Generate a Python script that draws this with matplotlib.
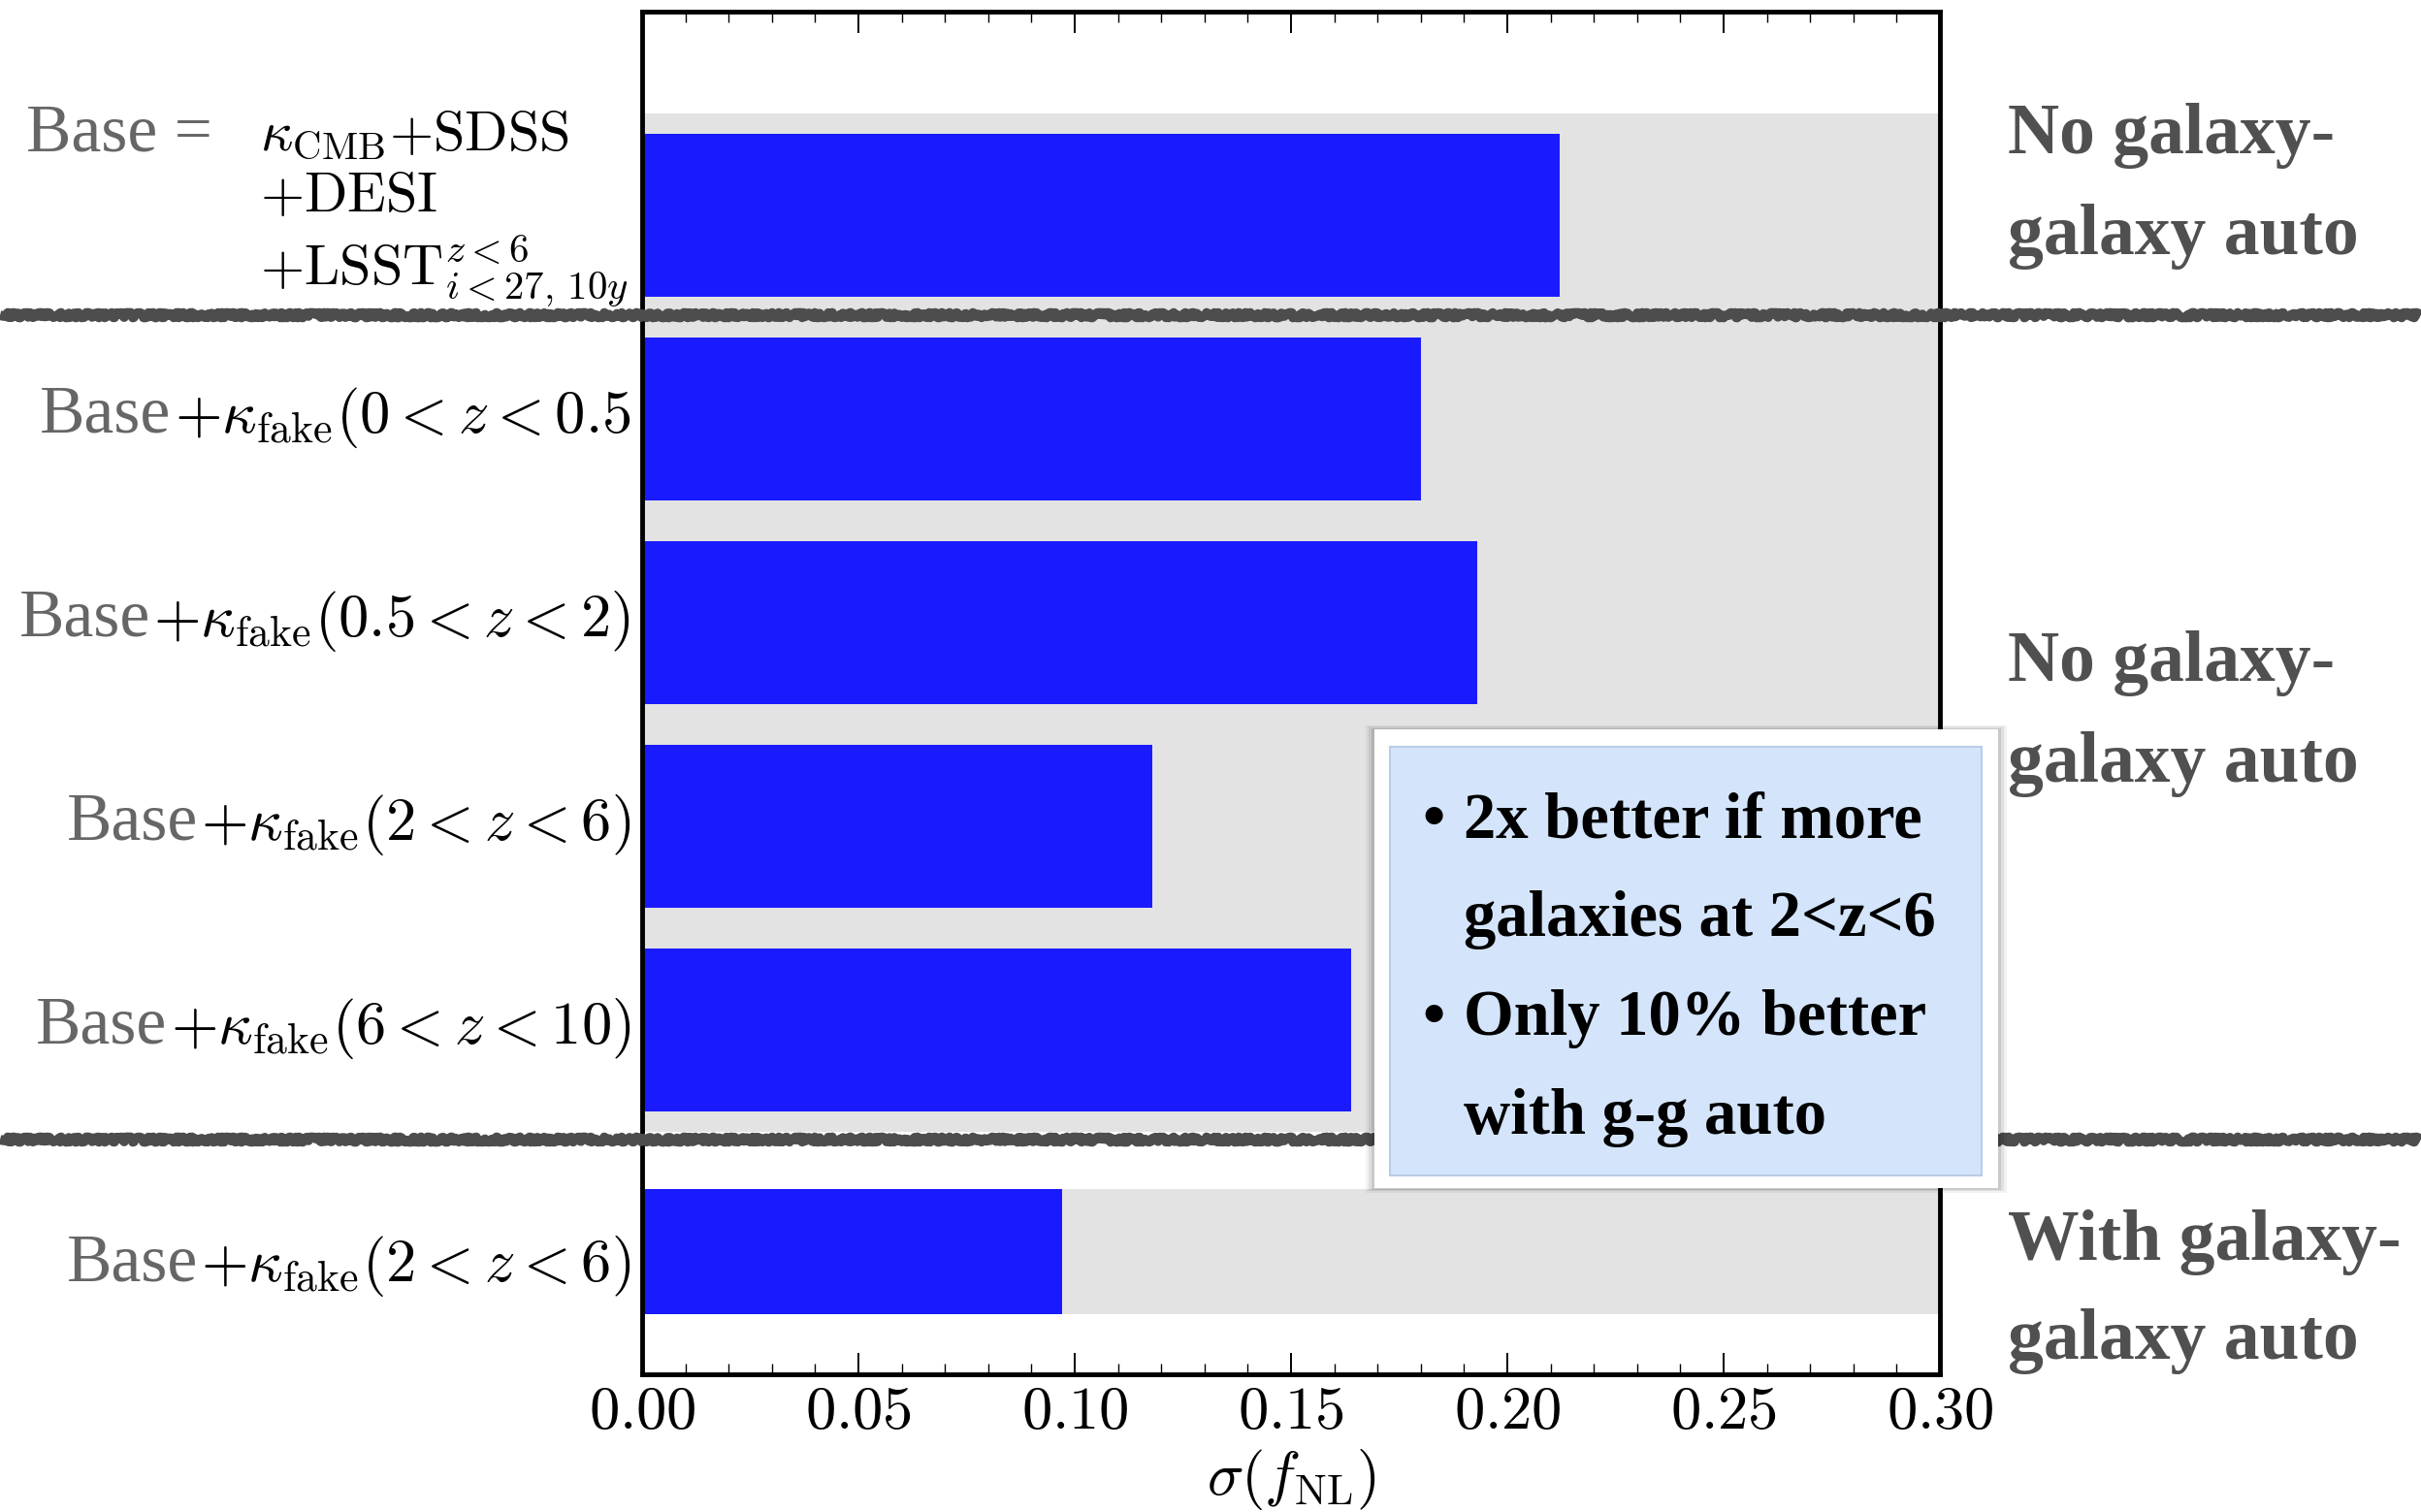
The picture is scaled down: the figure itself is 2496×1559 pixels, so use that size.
import matplotlib
matplotlib.use("Agg")
import matplotlib.pyplot as plt
from matplotlib.patches import Rectangle
from matplotlib.lines import Line2D
from matplotlib.ticker import MultipleLocator, FuncFormatter
from matplotlib.transforms import blended_transform_factory, IdentityTransform

plt.rcParams['mathtext.fontset'] = 'cm'
plt.rcParams['font.family'] = ['Liberation Serif', 'DejaVu Serif']

# ---------------- data ----------------
base_lines = [r"$\kappa_{\mathrm{CMB}}{+}\mathrm{SDSS}$",
              r"${+}\mathrm{DESI}$",
              r"${+}\mathrm{LSST}^{z<6}_{i<27,\,10y}$"]
row_labels = [r"${+}\kappa_{\mathrm{fake}}(0<z<0.5$",
              r"${+}\kappa_{\mathrm{fake}}(0.5<z<2)$",
              r"${+}\kappa_{\mathrm{fake}}(2<z<6)$",
              r"${+}\kappa_{\mathrm{fake}}(6<z<10)$",
              r"${+}\kappa_{\mathrm{fake}}(2<z<6)$"]
sigma_fnl = [0.212, 0.180, 0.193, 0.118, 0.164, 0.097]
group_titles = [["No galaxy-", "galaxy auto"],
                ["No galaxy-", "galaxy auto"],
                ["With galaxy-", "galaxy auto"]]
note_lines = [("\u2022", "2x better if more"),
              ("", "galaxies at 2<z<6"),
              ("\u2022", "Only 10% better"),
              ("", "with g-g auto")]
x_max = 0.30
x_major = 0.05
x_minor = 0.01
x_label = r"$\sigma(f_{\mathrm{NL}})$"

# ---------------- layout ----------------
W, H = 2496, 1559
ypos = [0, 1, 2, 3, 4, 5.088]
heights = [0.8, 0.8, 0.8, 0.8, 0.8, 0.61]
label_drop = [14, 14, 14, 14, 30]  # baseline offset (px) below bar centre

fig = plt.figure(figsize=(W / 100, H / 100), dpi=100)
ax = fig.add_axes([662 / W, 1 - 1417 / H, (2000 - 662) / W, (1417 - 12) / H])

gray = '#e3e3e3'
ax.axhspan(ypos[0] - 0.5, ypos[4] + 0.5, color=gray, lw=0, zorder=0)
ax.axhspan(ypos[5] - heights[5] / 2, ypos[5] + heights[5] / 2, color=gray, lw=0, zorder=0)
ax.barh(ypos, sigma_fnl, height=heights, color='#1a1aff', zorder=2)

ax.set_xlim(0, x_max)
ax.set_ylim(5.69, -0.998)
ax.set_yticks([])
ax.xaxis.set_major_locator(MultipleLocator(x_major))
ax.xaxis.set_minor_locator(MultipleLocator(x_minor))
ax.xaxis.set_major_formatter(FuncFormatter(lambda v, p: rf"${v:.2f}$"))
ax.tick_params(axis='x', which='both', direction='in', top=True, bottom=True)
ax.tick_params(axis='x', which='major', length=16, width=1.4, labelsize=45, pad=9)
ax.tick_params(axis='x', which='minor', length=8, width=1.0)
for s in ax.spines.values():
    s.set_linewidth(3.5)
ax.set_xlabel(x_label, fontsize=45, labelpad=3)

# row labels
blend = blended_transform_factory(ax.transAxes, ax.transData)
math_texts = []
for i, lab in enumerate(row_labels):
    t = ax.annotate(lab, xy=(0, ypos[i + 1]), xycoords=blend,
                    xytext=(-12, -label_drop[i]), textcoords='offset pixels',
                    ha='right', va='baseline', fontsize=45, color='black',
                    annotation_clip=False)
    math_texts.append(t)

fig.canvas.draw()
renderer = fig.canvas.get_renderer()
for i, t in enumerate(math_texts):
    bb = t.get_window_extent(renderer)
    yb = blend.transform((0, ypos[i + 1]))[1] - label_drop[i]
    fig.text(bb.x0 - 3, yb, "Base", transform=IdentityTransform(),
             ha='right', va='baseline', fontsize=50, color='#666666')

# base definition (top)
def fy(y):
    return H - y

fig.text(27, fy(155), "Base =", transform=IdentityTransform(),
         ha='left', va='baseline', fontsize=50, color='#666666')
for line, yb in zip(base_lines, [155, 218, 293]):
    fig.text(268, fy(yb), line, transform=IdentityTransform(),
             ha='left', va='baseline', fontsize=42, color='black')

# right-hand group titles
for lines, yb in zip(group_titles, [(158, 262), (702, 806), (1299, 1401)]):
    for line, y in zip(lines, yb):
        fig.text(2070, fy(y), line, transform=IdentityTransform(),
                 ha='left', va='baseline', fontsize=53, fontweight='bold',
                 color='#505050')

# grungy separator lines
for yl in [325, 1175]:
    ln = Line2D([0, 1], [1 - yl / H, 1 - yl / H], transform=fig.transFigure,
                color='#4d4d4d', lw=7, zorder=5, solid_capstyle='butt')
    ln.set_sketch_params(scale=2.5, length=5, randomness=12)
    fig.add_artist(ln)

# note box with soft shadow
def rect(x0, y0, x1, y1, **kw):
    r = Rectangle((x0, fy(y1)), x1 - x0, y1 - y0, transform=IdentityTransform(), **kw)
    fig.add_artist(r)

for k, a in [(9, 0.05), (6, 0.07), (3, 0.10)]:
    rect(1417 - k, 752 - k / 2, 2060 + k, 1225 + k / 2, facecolor='black',
         edgecolor='none', alpha=a, zorder=8)
rect(1417, 752, 2060, 1225, facecolor='white', edgecolor='none', zorder=9)
rect(1433, 770, 2043, 1212, facecolor='#d4e5fb', edgecolor='#b9cde6', lw=1.5, zorder=10)

for (bullet, txt), yb in zip(note_lines, [863, 965, 1067, 1169]):
    if bullet:
        fig.text(1466, fy(yb), bullet, transform=IdentityTransform(),
                 ha='left', va='baseline', fontsize=48, fontweight='bold',
                 color='black', zorder=11)
    fig.text(1509, fy(yb), txt, transform=IdentityTransform(),
             ha='left', va='baseline', fontsize=48, fontweight='bold',
             color='black', zorder=11)

fig.savefig("out.png", dpi=100)
